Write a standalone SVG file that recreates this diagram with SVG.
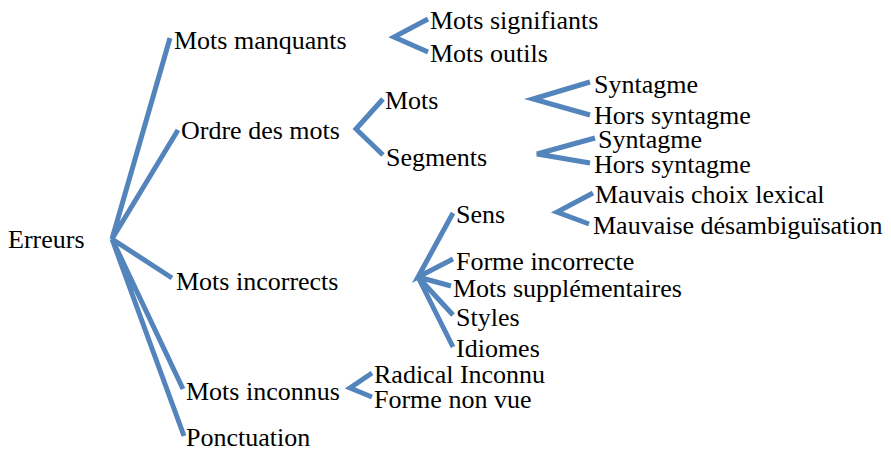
<svg xmlns="http://www.w3.org/2000/svg" width="891" height="451" viewBox="0 0 891 451">
<style>
.t text{font-family:"Liberation Serif","Times New Roman",serif;font-size:26px;fill:#000}
.c{fill:none;stroke:#5384BC;stroke-width:5;stroke-linejoin:miter;stroke-linecap:butt}
</style>
<rect width="891" height="451" fill="#fff"/>
<g id="connectors">
<path class="c" d="M170,38 L112,239 L178,130 M112,239 L172,278 M112,239 L183,389 M112,239 L184,436"/>
<path class="c" d="M428,19 L394,37 L428,52"/>
<path class="c" d="M383,99 L356,129 L383,155"/>
<path class="c" d="M590,82 L533,99 L590,115"/>
<path class="c" d="M595,138 L537,154 L590,163"/>
<path class="c" d="M593,193 L557,212 L589,224"/>
<path class="c" d="M453,213 L418,277 L453,259 M418,277 L451,286 M418,277 L453,315 M418,277 L453,347"/>
<path class="c" d="M372,373 L350,388 L372,397"/>
</g>
<g class="t">
<g id="n-erreurs"><text x="8" y="248">Erreurs</text></g>
<g id="n-mots-manquants"><text x="174" y="49">Mots manquants</text></g>
<g id="n-mots-signifiants"><text x="430" y="29">Mots signifiants</text></g>
<g id="n-mots-outils"><text x="430" y="62">Mots outils</text></g>
<g id="n-ordre"><text x="181" y="139">Ordre des mots</text></g>
<g id="n-mots"><text x="385" y="109">Mots</text></g>
<g id="n-segments"><text x="386" y="166">Segments</text></g>
<g id="n-syntagme1"><text x="594" y="93">Syntagme</text></g>
<g id="n-hors1"><text x="594" y="124">Hors syntagme</text></g>
<g id="n-syntagme2"><text x="598" y="148">Syntagme</text></g>
<g id="n-hors2"><text x="594" y="173">Hors syntagme</text></g>
<g id="n-mauvais-choix"><text x="595" y="203">Mauvais choix lexical</text></g>
<g id="n-mauvaise-desamb"><text x="593" y="234">Mauvaise désambiguïsation</text></g>
<g id="n-mots-incorrects"><text x="176" y="290">Mots incorrects</text></g>
<g id="n-sens"><text x="456" y="223">Sens</text></g>
<g id="n-forme-incorrecte"><text x="456" y="270">Forme incorrecte</text></g>
<g id="n-mots-suppl"><text x="453" y="297">Mots supplémentaires</text></g>
<g id="n-styles"><text x="456" y="326">Styles</text></g>
<g id="n-idiomes"><text x="456" y="357">Idiomes</text></g>
<g id="n-mots-inconnus"><text x="186" y="400">Mots inconnus</text></g>
<g id="n-radical"><text x="374" y="383">Radical Inconnu</text></g>
<g id="n-forme-non-vue"><text x="374" y="408">Forme non vue</text></g>
<g id="n-ponctuation"><text x="186" y="446">Ponctuation</text></g>
</g>
</svg>
